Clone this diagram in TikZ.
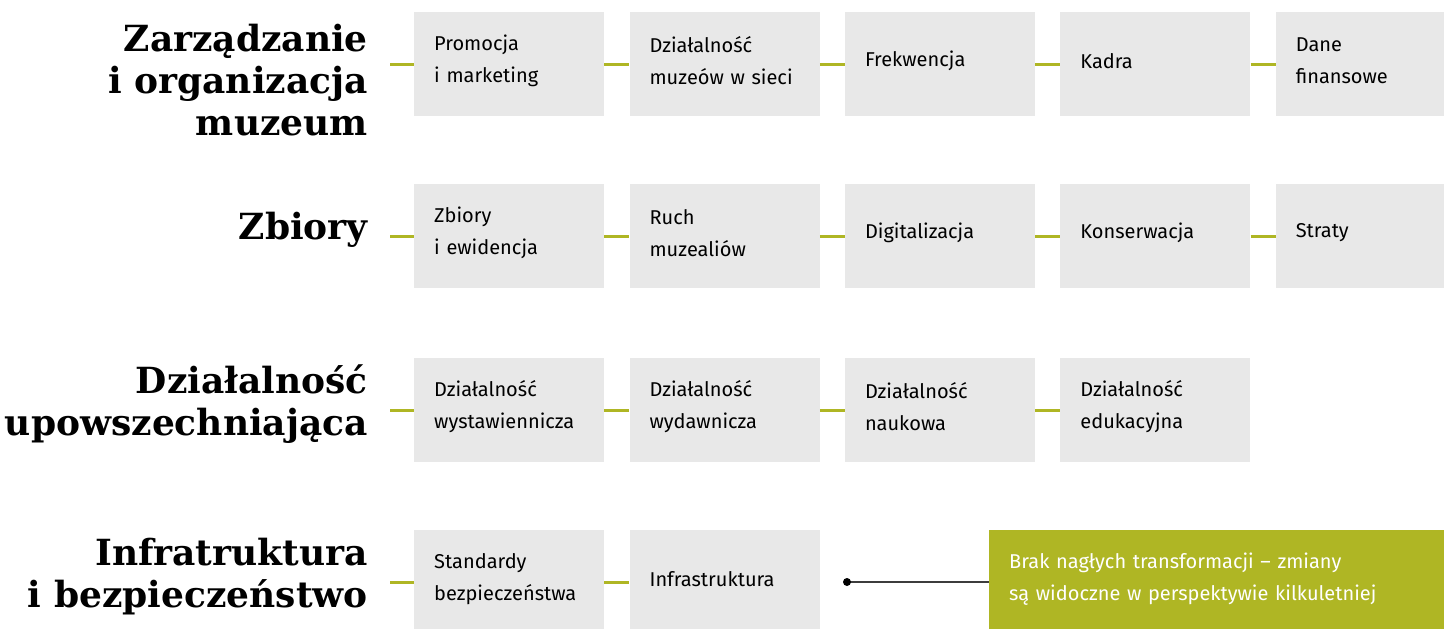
\documentclass[tikz,border=0pt]{standalone}
\usepackage{fontspec}
\setmainfont{Fira Sans}
\newfontfamily\titlefont{DejaVu Serif}
\usetikzlibrary{positioning}
\definecolor{kiwi}{HTML}{AFB624}
\definecolor{boxgray}{HTML}{E8E8E8}
\definecolor{darkline}{HTML}{3C3C3C}
\tikzset{basic/.style={fill=boxgray,minimum width=190pt,minimum height=104pt,text width=150pt,align=left,inner sep=0pt,font=\fontsize{20}{32}\selectfont,execute at end node={\par\vspace{6pt}}}}
\tikzset{topic/.style={anchor=east,align=right,inner sep=0pt,font=\titlefont\bfseries\fontsize{36}{42}\selectfont}}
\tikzset{note/.style={basic,fill=kiwi,text=white,minimum width=470pt,text width=430pt}}
\tikzset{link/.style={draw=kiwi,line width=3pt}}

\begin{document}
\begin{tikzpicture}[x=1pt,y=-1pt]
        \useasboundingbox (0,0) rectangle (1444,629);
        % row 1
        \node[topic] (t1) at (368,80) {Zarządzanie\\i organizacja\\muzeum};
        \node[basic,anchor=west] (a1) at (414,64) {Promocja\\i marketing};
        \node[basic,right=25pt of a1] (a2) {Działalność\\muzeów w sieci};
        \node[basic,right=25pt of a2] (a3) {Frekwencja};
        \node[basic,right=25pt of a3] (a4) {Kadra};
        \node[basic,right=25pt of a4] (a5) {Dane\\finansowe};
        % row 2
        \node[topic] (t2) at (368,230) {Zbiory};
        \node[basic,anchor=west] (b1) at (414,236) {Zbiory\\i ewidencja};
        \node[basic,right=25pt of b1] (b2) {Ruch\\muzealiów};
        \node[basic,right=25pt of b2] (b3) {Digitalizacja};
        \node[basic,right=25pt of b3] (b4) {Konserwacja};
        \node[basic,right=25pt of b4] (b5) {Straty};
        % row 3
        \node[topic] (t3) at (368,404) {Działalność\\upowszechniająca};
        \node[basic,anchor=west] (c1) at (414,410) {Działalność\\wystawiennicza};
        \node[basic,right=25pt of c1] (c2) {Działalność\\wydawnicza};
        \node[basic,right=25pt of c2] (c3) {Działalność\\naukowa};
        \node[basic,right=25pt of c3] (c4) {Działalność\\edukacyjna};
        % row 4
        \node[topic] (t4) at (368,577) {Infratruktura\\i bezpieczeństwo};
        \node[basic,anchor=west] (d1) at (414,582) {Standardy\\bezpieczeństwa};
        \node[basic,right=25pt of d1] (d2) {Infrastruktura};
        \node[note,anchor=west] (n1) at (989,582) {Brak nagłych transformacji – zmiany\\są widoczne w perspektywie kilkuletniej};
        \coordinate (dot) at (847,582);

        \foreach \t/\b in {t1/a1,t2/b1,t3/c1,t4/d1}
            \path[link,shorten <=22pt] (\t.east |- \b.west) -- (\b.west);
        \foreach \l/\r in {a1/a2,a2/a3,a3/a4,a4/a5,b1/b2,b2/b3,b3/b4,b4/b5,c1/c2,c2/c3,c3/c4,d1/d2}
            \path[link] (\l.east) -- (\r.west);
        \draw[darkline,line width=2pt] (dot) -- (n1.west);
        \fill[black] (dot) circle (4pt);
\end{tikzpicture}
\end{document}
